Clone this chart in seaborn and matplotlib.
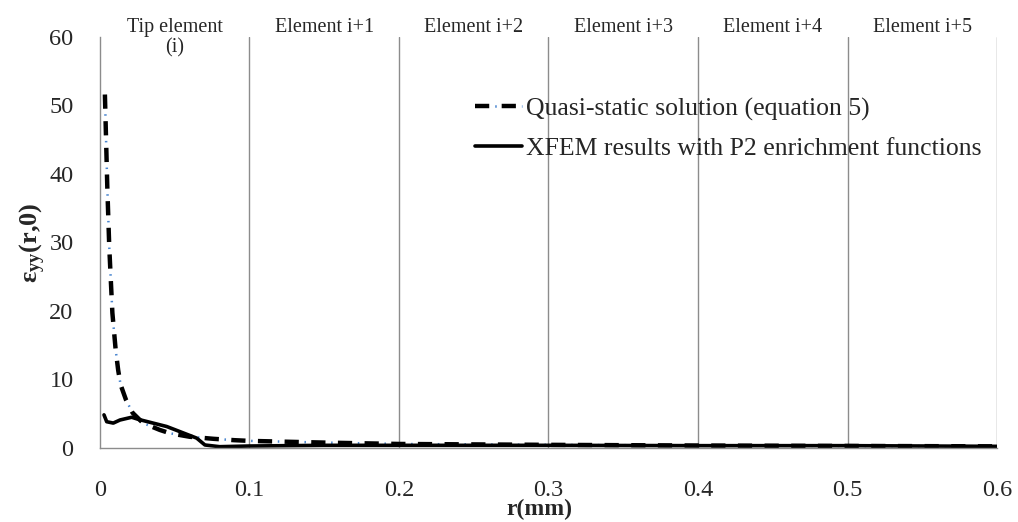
import pandas as pd
import matplotlib
matplotlib.use("Agg")
import matplotlib.pyplot as plt
import seaborn as sns

# values
r_quasi = [0.0033, 0.0049, 0.0062, 0.0074, 0.0083, 0.0105, 0.0122, 0.0138, 0.0174,
           0.0218, 0.0288, 0.040, 0.047, 0.060, 0.076, 0.09, 0.10, 0.15, 0.20,
           0.30, 0.40, 0.50, 0.60]
eps_quasi = [51.6, 38.1, 29.4, 23.8, 19.7, 14.3, 11.3, 9.2, 7.0,
             5.1, 3.6, 2.6, 2.1, 1.6, 1.3, 1.1, 1.0, 0.75, 0.55,
             0.42, 0.32, 0.26, 0.2]

r_xfem = [0.0027, 0.0045, 0.0089, 0.0134, 0.0212, 0.0256, 0.0346, 0.0446, 0.0535,
          0.0647, 0.0702, 0.08, 0.10, 0.15, 0.20, 0.30, 0.40, 0.50, 0.60]
eps_xfem = [4.8, 3.8, 3.6, 4.05, 4.45, 4.15, 3.65, 3.1, 2.35,
            1.4, 0.4, 0.15, 0.25, 0.35, 0.35, 0.35, 0.3, 0.3, 0.2]

element_labels = ["Tip element\n(i)", "Element i+1", "Element i+2",
                  "Element i+3", "Element i+4", "Element i+5"]
element_centers = [0.05, 0.15, 0.25, 0.35, 0.45, 0.55]

quasi = pd.DataFrame({"r": r_quasi, "eps": eps_quasi})
xfem = pd.DataFrame({"r": r_xfem, "eps": eps_xfem})

sns.set_style("white")
plt.rcParams["font.family"] = ["Liberation Serif", "DejaVu Serif"]
plt.rcParams["mathtext.fontset"] = "custom"
plt.rcParams["mathtext.rm"] = "Liberation Serif"
plt.rcParams["mathtext.bf"] = "Liberation Serif:bold"

fig = plt.figure(figsize=(10.18, 5.22), dpi=100)
ax = fig.add_axes([0.0982, 0.1423, 0.8812, 0.7868])

# quasi-static: black dashes with a blue dot in each gap
sns.lineplot(data=quasi, x="r", y="eps", ax=ax, color="black", linewidth=3.2,
             estimator=None)
qs_black = ax.lines[-1]
qs_black.set_linestyle((0, (3.2, 2.8)))
sns.lineplot(data=quasi, x="r", y="eps", ax=ax, color="#4a86d0", linewidth=1.8,
             estimator=None)
qs_blue = ax.lines[-1]
qs_blue.set_linestyle((2.78, (0.6, 10.07)))

sns.lineplot(data=xfem, x="r", y="eps", ax=ax, color="black", linewidth=2.6,
             estimator=None)
xf_line = ax.lines[-1]

ax.set_xlim(0, 0.6)
ax.set_ylim(0, 60)
ax.set_xticks([0, 0.1, 0.2, 0.3, 0.4, 0.5, 0.6])
ax.set_xticklabels(["0", "0.1", "0.2", "0.3", "0.4", "0.5", "0.6"])
ax.set_yticks(range(0, 61, 10))

for x in [0.1, 0.2, 0.3, 0.4, 0.5, 0.6]:
    ax.axvline(x, color="#8c8c8c", linewidth=1, zorder=0)

for s in ["top", "right"]:
    ax.spines[s].set_visible(False)
for s in ["left", "bottom"]:
    ax.spines[s].set_color("#8c8c8c")
    ax.spines[s].set_linewidth(1)

ax.tick_params(axis="both", direction="out", length=6, width=1, color="#8c8c8c",
               labelsize=17.5)
ax.tick_params(axis="x", pad=17)
ax.tick_params(axis="y", pad=13)

ax.set_xlabel("r(mm)", fontsize=17, fontweight="bold")
ax.xaxis.set_label_coords(0.49, -0.125)
ax.set_ylabel(r"$\mathbf{ε_{yy}(r{,}0)}$", fontsize=19)
ax.yaxis.set_label_coords(-0.058, 0.5)

for lab, xc in zip(element_labels, element_centers):
    ax.text(xc, 1.046, lab, transform=ax.get_xaxis_transform(), ha="center",
            va="top", fontsize=14.5, linespacing=1.05)

ax.legend([(qs_black, qs_blue), xf_line],
          ["Quasi-static solution (equation 5)",
           "XFEM results with P2 enrichment functions"],
          loc="upper left", bbox_to_anchor=(0.392, 0.91), frameon=False,
          fontsize=18.5, handlelength=1.85, handletextpad=0.15, labelspacing=0.65)

fig.savefig("out.png", dpi=100)
